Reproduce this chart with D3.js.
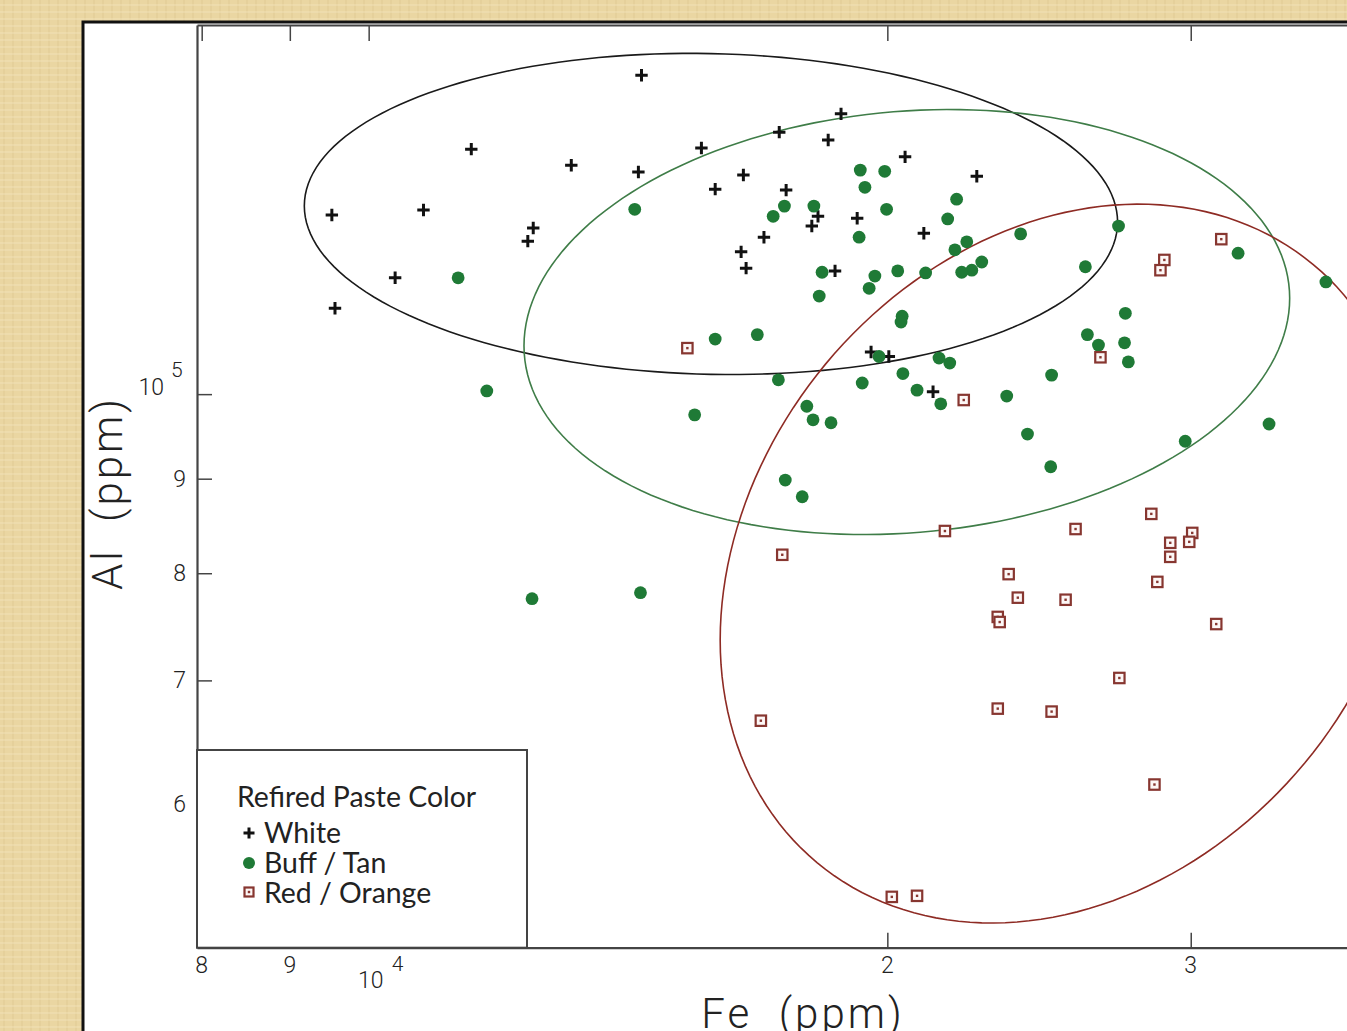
<!DOCTYPE html>
<html>
<head>
<meta charset="utf-8">
<script src="https://cdn.jsdelivr.net/npm/d3@7"></script>
<style>
	body { margin: 0; background: #e9d5a0; overflow: hidden; }
</style>
</head>
<body>
<div id="chart-area"></div>
<script>

/////////////////////////
// DATA (ppm)
/////////////////////////

// Refired paste colour: White
let whiteFe = [14400, 11470, 13110, 14340, 15600, 9520, 10760, 12460, 12370, 10360,
	9560, 18800, 17310, 18480, 20480, 16500, 15890, 17470, 22540, 18230,
	18080, 19210, 16960, 21000, 16450, 16560, 18650, 19570, 20040, 21260];
let whiteAl = [148800, 135700, 133000, 131900, 135900, 125000, 125800, 123000, 121000, 115600,
	111300, 141800, 138600, 137250, 134400, 131400, 129100, 128950, 131200, 124800,
	123300, 124500, 121600, 122200, 119400, 117000, 116600, 105400, 104800, 100300];

// Buff / Tan
let buffFe = [11270, 14270, 19290, 19930, 19410, 17430, 17170, 18130, 19980, 19260,
	21940, 21680, 22240, 21890, 22690, 22390, 22090, 23900, 18330, 20280,
	21050, 19670, 19520, 18260, 20400, 20370, 15890, 16810, 19780, 21430,
	21740, 17290, 19340, 20420, 20810, 23460, 21480, 17960, 15460, 18110,
	18550, 24120, 24880, 17450, 17850, 11710, 12440, 14380, 27240, 26060,
	31960, 35940, 27490, 26130, 26520, 27460, 27600, 24910, 29780, 33310];
let buffAl = [115600, 125900, 132200, 132000, 129400, 126400, 124800, 126400, 125900, 121600,
	127500, 124400, 120900, 119700, 117900, 116700, 116400, 122100, 116400, 116600,
	116300, 115850, 114100, 113000, 110200, 109400, 107100, 107700, 104800, 104600,
	103950, 101800, 101400, 102600, 100500, 99760, 98800, 98500, 97450, 96850,
	96500, 95150, 91350, 89850, 88000, 100400, 77500, 78080, 123300, 117200,
	119200, 115000, 110600, 107700, 106300, 106600, 104100, 102400, 94300, 96350];

// Red / Orange
let redFe = [15310, 22150, 31250, 28960, 28810, 26590, 21600, 17380, 25720, 28460,
	30060, 29940, 29190, 29190, 23520, 28690, 23810, 25380, 23180, 23240,
	31040, 27270, 23180, 24910, 28580, 16890, 20120, 20810];
let redAl = [105900, 99270, 121300, 118200, 116700, 104700, 84320, 81860, 84530, 86140,
	84120, 83190, 83090, 81650, 79910, 79140, 77600, 77400, 75760, 75280,
	75090, 70210, 67580, 67330, 61480, 66570, 53450, 53520];

// Group ellipses: centre in ppm, half-axes in log10 decades, correlation of the logs
let groupNames = ["White", "Buff / Tan", "Red / Orange"];
let ellipseFe = [15800, 20528, 25364];
let ellipseAl = [125170, 109400, 80968];
let ellipseSdFe = [0.2360, 0.2222, 0.2002];
let ellipseSdAl = [0.0869, 0.1150, 0.1945];
let ellipseR = [-0.05, 0.112, 0.213];

// Tick values
let feTicks = [8000, 9000, 10000, 20000, 30000];
let alTicks = [60000, 70000, 80000, 90000, 100000];


/////////////////////////
// SVG drawing area
/////////////////////////

let width = 1347, height = 1031;
let plot = {left: 197, top: 25, right: 1406, bottom: 947.7};

let svg = d3.select("#chart-area").append("svg")
	.attr("width", width)
	.attr("height", height);

// parchment background
let defs = svg.append("defs");
let pat = defs.append("pattern")
	.attr("id", "linen")
	.attr("patternUnits", "userSpaceOnUse")
	.attr("width", 9)
	.attr("height", 7);
pat.append("rect").attr("width", 9).attr("height", 7).attr("fill", "#ead6a2");
pat.append("line").attr("x1", 4).attr("x2", 4).attr("y1", 0).attr("y2", 7)
	.attr("stroke", "#dcc48c").attr("stroke-width", 1.2).attr("opacity", 0.6);
pat.append("line").attr("x1", 0).attr("x2", 9).attr("y1", 5).attr("y2", 5)
	.attr("stroke", "#f4e6bf").attr("stroke-width", 1).attr("opacity", 0.7);

svg.append("rect")
	.attr("width", width)
	.attr("height", height)
	.attr("fill", "url(#linen)");

// white panel
svg.append("rect")
	.attr("x", 83)
	.attr("y", 22)
	.attr("width", 1400)
	.attr("height", 1100)
	.attr("fill", "#fff")
	.attr("stroke", "#111")
	.attr("stroke-width", 3);

defs.append("clipPath").attr("id", "plot-clip")
	.append("rect")
	.attr("x", plot.left)
	.attr("y", plot.top)
	.attr("width", plot.right - plot.left)
	.attr("height", plot.bottom - plot.top);


/////////////////////////
// SCALES + AXES
/////////////////////////

let x = d3.scaleLog()
	.domain([7950, 40000])
	.range([plot.left, plot.right]);

let y = d3.scaleLog()
	.domain([50170, 158400])
	.range([plot.bottom, plot.top]);

let axisColor = "#444";

let xAxisBottom = d3.axisBottom(x).tickValues(feTicks).tickSize(-15).tickSizeOuter(0).tickFormat("");
let xAxisTop = d3.axisTop(x).tickValues(feTicks).tickSize(-16).tickSizeOuter(0).tickFormat("");
let yAxis = d3.axisLeft(y).tickValues(alTicks).tickSize(-15).tickSizeOuter(0).tickFormat("");

function styleAxis(g) {
	g.select(".domain").attr("stroke", axisColor).attr("stroke-width", 2.2);
	g.selectAll(".tick line").attr("stroke", axisColor).attr("stroke-width", 1.5);
}

svg.append("g")
	.attr("class", "x-axis axis")
	.attr("transform", "translate(0," + plot.bottom + ")")
	.call(xAxisBottom)
	.call(styleAxis);

svg.append("g")
	.attr("class", "x-axis-top axis")
	.attr("transform", "translate(0," + plot.top + ")")
	.call(xAxisTop)
	.call(styleAxis);

svg.append("g")
	.attr("class", "y-axis axis")
	.attr("transform", "translate(" + plot.left + ",0)")
	.call(yAxis)
	.call(styleAxis);

let tickFont = "Roboto, 'Liberation Sans', Arial, sans-serif";
let isPow10 = v => Math.abs(Math.log10(v) - Math.round(Math.log10(v))) < 1e-9;
let leading = v => Math.round(v / Math.pow(10, Math.floor(Math.log10(v))));

function label(xp, yp, txt, size, anchor) {
	return svg.append("text")
		.attr("x", xp).attr("y", yp)
		.attr("text-anchor", anchor)
		.attr("font-family", tickFont)
		.attr("font-weight", 300)
		.attr("font-size", size)
		.attr("fill", "#222")
		.text(txt);
}

// x tick labels
feTicks.forEach(function(v) {
	if (isPow10(v)) {
		label(x(v) + 2, plot.bottom + 40, "10", 23, "middle");
		label(x(v) + 23, plot.bottom + 23, Math.round(Math.log10(v)), 21, "start");
	} else {
		label(x(v), plot.bottom + 25, leading(v), 23, "middle");
	}
});

// y tick labels
alTicks.forEach(function(v) {
	if (isPow10(v)) {
		label(164, y(v) + 1, "10", 23, "end");
		label(171, y(v) - 17, Math.round(Math.log10(v)), 21, "start");
	} else {
		label(186, y(v) + 8, leading(v), 23, "end");
	}
});

// axis titles
label(803, 1028, "Fe\u00a0\u00a0(ppm)", 42, "middle")
	.attr("letter-spacing", 3);

label(0, 0, "Al\u00a0\u00a0(ppm)", 42, "middle")
	.attr("transform", "translate(122,493) rotate(-90)")
	.attr("letter-spacing", 3);


/////////////////////////
// ELLIPSES
/////////////////////////

let ellipseColors = ["#1a1a1a", "#3f7d48", "#8e2b24"];

let ellipseLine = d3.line().curve(d3.curveLinearClosed);

let ellipseG = svg.append("g").attr("clip-path", "url(#plot-clip)");

groupNames.forEach(function(name, i) {
	let r = ellipseR[i];
	let pts = d3.range(0, 360, 2).map(function(deg) {
		let t = deg * Math.PI / 180;
		let dx = ellipseSdFe[i] * Math.cos(t);
		let dy = ellipseSdAl[i] * (r * Math.cos(t) + Math.sqrt(1 - r * r) * Math.sin(t));
		return [x(ellipseFe[i] * Math.pow(10, dx)), y(ellipseAl[i] * Math.pow(10, dy))];
	});
	ellipseG.append("path")
		.attr("d", ellipseLine(pts))
		.attr("fill", "none")
		.attr("stroke", ellipseColors[i])
		.attr("stroke-width", 1.6);
});


/////////////////////////
// POINTS
/////////////////////////

let green = "#1f7a36";
let brick = "#873630";

function drawCross(g, cx, cy, s) {
	g.append("path")
		.attr("d", "M" + (cx - s) + "," + cy + "H" + (cx + s) + "M" + cx + "," + (cy - s) + "V" + (cy + s))
		.attr("stroke", "#111")
		.attr("stroke-width", 3);
}

function drawSquare(g, cx, cy, s) {
	g.append("rect")
		.attr("x", cx - s).attr("y", cy - s)
		.attr("width", 2 * s).attr("height", 2 * s)
		.attr("fill", "#fdf7f6")
		.attr("stroke", brick)
		.attr("stroke-width", 2.2);
	g.append("rect")
		.attr("x", cx - 1.2).attr("y", cy - 1.2)
		.attr("width", 2.4).attr("height", 2.4)
		.attr("fill", brick);
}

let pointsG = svg.append("g").attr("clip-path", "url(#plot-clip)");

whiteFe.forEach(function(fe, i) {
	drawCross(pointsG, x(fe), y(whiteAl[i]), 6.2);
});

pointsG.selectAll("circle.buff")
	.data(buffFe)
	.enter()
	.append("circle")
	.attr("class", "buff")
	.attr("cx", d => x(d))
	.attr("cy", (d, i) => y(buffAl[i]))
	.attr("r", 6.4)
	.attr("fill", green);

redFe.forEach(function(fe, i) {
	drawSquare(pointsG, x(fe), y(redAl[i]), 5.2);
});


/////////////////////////
// LEGEND
/////////////////////////

let legendFont = "Lato, 'Open Sans', sans-serif";

svg.append("rect")
	.attr("x", plot.left)
	.attr("y", 750)
	.attr("width", 330)
	.attr("height", plot.bottom - 750)
	.attr("fill", "#fff")
	.attr("stroke", axisColor)
	.attr("stroke-width", 2);

svg.append("text")
	.attr("x", 237).attr("y", 807)
	.attr("font-family", legendFont).attr("font-size", 28.4).attr("fill", "#222")
	.text("Refired Paste Color");

let legendG = svg.append("g");
drawCross(legendG, 249, 833, 5.5);
legendG.append("circle").attr("cx", 249).attr("cy", 863).attr("r", 6).attr("fill", green);
drawSquare(legendG, 249, 892, 4.5);

groupNames.forEach(function(name, i) {
	svg.append("text")
		.attr("x", 264).attr("y", 843 + i * 30)
		.attr("font-family", legendFont).attr("font-size", 28.4).attr("fill", "#222")
		.text(name);
});

</script>
</body>
</html>
